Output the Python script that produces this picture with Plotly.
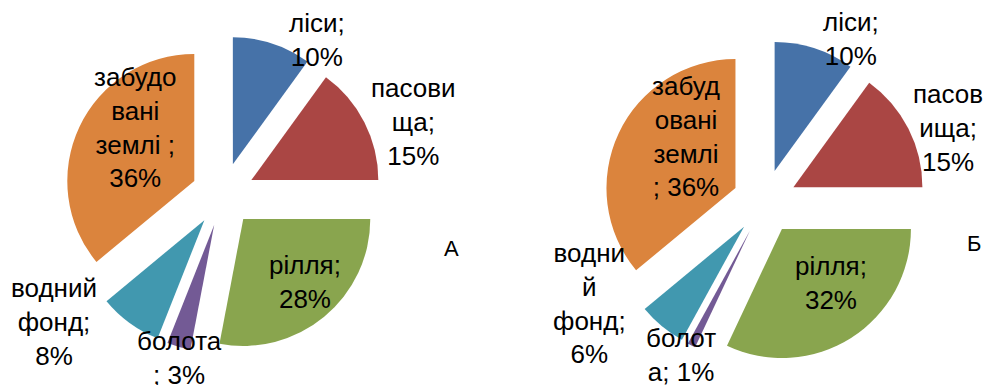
import plotly.graph_objects as go

# ---- data ----
categories = ["ліси", "пасовища", "рілля", "болота", "водний фонд", "забудовані землі"]
values_a = [10, 15, 28, 3, 8, 36]
values_b = [10, 15, 32, 1, 6, 36]
# data-label texts as wrapped in the original
labels_a = ["ліси;<br>10%", "пасови<br>ща;<br>15%", "рілля;<br>28%", "болота<br>; 3%",
            "водний<br>фонд;<br>8%", "забудо<br>вані<br>землі ;<br>36%"]
labels_b = ["ліси;<br>10%", "пасов<br>ища;<br>15%", "рілля;<br>32%", "болот<br>а; 1%",
            "водни<br>й<br>фонд;<br>6%", "забуд<br>овані<br>землі<br>; 36%"]
panel_titles = ["А", "Б"]

# ---- styles / layout ----
colors = ["#4672A8", "#AA4644", "#89A54E", "#735A95", "#4198AF", "#DB843D"]
W, H = 986, 385
FONT = "Liberation Sans, Arial, sans-serif"
pos_a = [(317, 40), (413, 122), (305, 282), (179, 358), (54, 322), (135, 127)]
pos_b = [(851, 39), (948, 128), (831, 283), (681, 355), (589, 303), (686, 136)]
title_pos = [(451, 248), (974, 243)]

fig = go.Figure()
for vals, dom in [(values_a, dict(x=[0.0622, 0.3902], y=[0.0825, 0.9072])),
                  (values_b, dict(x=[0.608, 0.943], y=[0.0570, 0.8947]))]:
    fig.add_trace(go.Pie(
        labels=categories, values=vals, sort=False, direction="clockwise",
        rotation=0, pull=[0.25] * len(vals), textinfo="none",
        marker=dict(colors=colors, line=dict(width=0)),
        domain=dom, showlegend=False,
    ))

annotations = []
for labels, pos in [(labels_a, pos_a), (labels_b, pos_b)]:
    for t, (px, py) in zip(labels, pos):
        annotations.append(dict(x=px / W, y=1 - py / H, xref="paper", yref="paper",
                                text=t, showarrow=False, xanchor="center", yanchor="middle",
                                font=dict(family=FONT, size=26, color="black")))
for t, (px, py) in zip(panel_titles, title_pos):
    annotations.append(dict(x=px / W, y=1 - py / H, xref="paper", yref="paper",
                            text=t, showarrow=False, xanchor="center", yanchor="middle",
                            font=dict(family=FONT, size=22, color="black")))

fig.update_layout(width=W, height=H, margin=dict(l=0, r=0, t=0, b=0),
                  paper_bgcolor="white", plot_bgcolor="white",
                  annotations=annotations)
fig.write_html("out.html")
